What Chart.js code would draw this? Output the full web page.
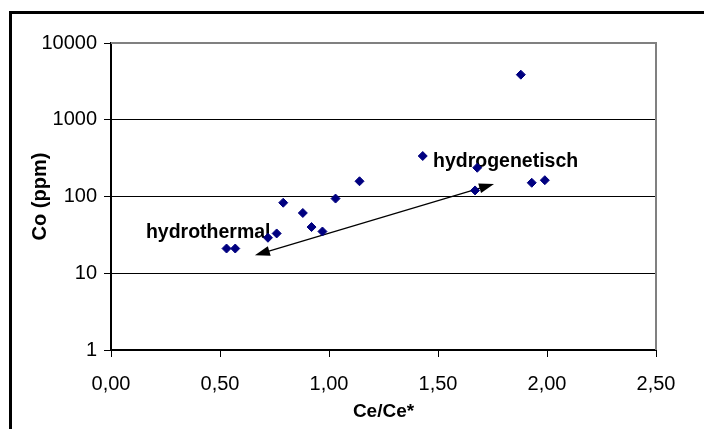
<!DOCTYPE html>
<html><head><meta charset="utf-8">
<script src="https://cdn.jsdelivr.net/npm/chart.js@4"></script>
<style>html,body{margin:0;padding:0;background:#fff;}#wrap{width:704px;height:429px;position:relative}</style>
</head><body><div id="wrap"><canvas id="c" width="704" height="429"></canvas></div>
<script>
// ---- data ----
const ceRatio = [0.53, 0.57, 0.72, 0.76, 0.79, 0.88, 0.92, 0.97, 1.03, 1.14, 1.43, 1.68, 1.67, 1.88, 1.93, 1.99];
const coPpm   = [21,   21,   29,   33,   83,   61,   40,   35,   94,   158,  337,  237,  120,  3865, 151,  163];
const xTicks = [0, 0.5, 1, 1.5, 2, 2.5];
const yTicks = [1, 10, 100, 1000, 10000];
const xTitle = 'Ce/Ce*';
const yTitle = 'Co (ppm)';
const annTexts = ['hydrothermal', 'hydrogenetisch'];
const annTextX = [0.16, 1.477];
const annTextY = [28.5, 242];
const arrowX = [0.66, 1.757];
const arrowY = [17.1, 145.5];

const FONT = '"Liberation Sans", Arial, sans-serif';

const decor = {
  id: 'decor',
  beforeDatasetsDraw(chart) {
    const {ctx, chartArea: a, scales: {x, y}} = chart;
    ctx.save();
    ctx.strokeStyle = '#808080';
    ctx.lineWidth = 2;
    ctx.beginPath();
    ctx.moveTo(a.left, a.top); ctx.lineTo(a.right, a.top); ctx.lineTo(a.right, a.bottom);
    ctx.stroke();
    const x1 = x.getPixelForValue(arrowX[0]), y1 = y.getPixelForValue(arrowY[0]);
    const x2 = x.getPixelForValue(arrowX[1]), y2 = y.getPixelForValue(arrowY[1]);
    const ang = Math.atan2(y2 - y1, x2 - x1);
    const hl = 15, hw = 5;
    ctx.strokeStyle = '#000'; ctx.fillStyle = '#000'; ctx.lineWidth = 1.2;
    ctx.beginPath();
    ctx.moveTo(x1 + Math.cos(ang) * hl * 0.8, y1 + Math.sin(ang) * hl * 0.8);
    ctx.lineTo(x2 - Math.cos(ang) * hl * 0.8, y2 - Math.sin(ang) * hl * 0.8);
    ctx.stroke();
    function head(tx, ty, a2) {
      const bx = tx - Math.cos(a2) * hl, by = ty - Math.sin(a2) * hl;
      ctx.beginPath();
      ctx.moveTo(tx, ty);
      ctx.lineTo(bx + Math.sin(a2) * hw, by - Math.cos(a2) * hw);
      ctx.lineTo(bx - Math.sin(a2) * hw, by + Math.cos(a2) * hw);
      ctx.closePath(); ctx.fill();
    }
    head(x2, y2, ang);
    head(x1, y1, ang + Math.PI);
    ctx.font = 'bold 19.5px ' + FONT;
    ctx.textBaseline = 'alphabetic';
    ctx.textAlign = 'left';
    ctx.fillStyle = '#000';
    for (let i = 0; i < annTexts.length; i++) {
      ctx.fillText(annTexts[i], x.getPixelForValue(annTextX[i]), y.getPixelForValue(annTextY[i]));
    }
    ctx.restore();
  },
  afterDraw(chart) {
    const {ctx} = chart;
    ctx.save();
    ctx.fillStyle = '#000';
    ctx.fillRect(9, 11, 695, 3);
    ctx.fillRect(9, 11, 3, 418);
    ctx.restore();
  }
};

new Chart(document.getElementById('c'), {
  type: 'scatter',
  data: {
    datasets: [{
      data: ceRatio.map((v, i) => ({x: v, y: coPpm[i]})),
      pointStyle: 'rectRot',
      pointRadius: 4.5,
      backgroundColor: '#000080',
      borderColor: '#000080',
      borderWidth: 1,
      showLine: false
    }]
  },
  options: {
    responsive: false,
    devicePixelRatio: 1,
    animation: false,
    layout: {padding: {left: 0, top: 43, right: 48, bottom: 0}},
    plugins: {legend: {display: false}, tooltip: {enabled: false}},
    scales: {
      x: {
        type: 'linear', min: 0, max: 2.5,
        afterBuildTicks(s) { s.ticks = xTicks.map(v => ({value: v})); },
        afterFit(s) { s.height = 79; },
        grid: {drawOnChartArea: false, drawTicks: true, tickLength: 7, tickColor: '#000', tickWidth: 1},
        border: {display: true, color: '#000', width: 2},
        ticks: {
          color: '#000', padding: 15, maxRotation: 0, autoSkip: false,
          font: {family: FONT, size: 20},
          callback: v => v.toFixed(2).replace('.', ',')
        },
        title: {display: true, text: xTitle, color: '#000', font: {family: FONT, size: 19, weight: 'bold'}, padding: {top: 0, bottom: 6}}
      },
      y: {
        type: 'logarithmic', min: 1, max: 10000,
        afterBuildTicks(s) { s.ticks = yTicks.map(v => ({value: v})); },
        afterFit(s) { s.width = 111; },
        grid: {drawOnChartArea: true, color: '#000', lineWidth: 1, drawTicks: true, tickLength: 7, tickColor: '#000', tickWidth: 1},
        border: {display: true, color: '#000', width: 2},
        ticks: {
          color: '#000', padding: 7, autoSkip: false,
          font: {family: FONT, size: 20},
          callback: v => String(v)
        },
        title: {display: true, text: yTitle, color: '#000', font: {family: FONT, size: 20, weight: 'bold'}, padding: {top: 28, bottom: 0}}
      }
    }
  },
  plugins: [decor]
});
</script>
</body></html>
